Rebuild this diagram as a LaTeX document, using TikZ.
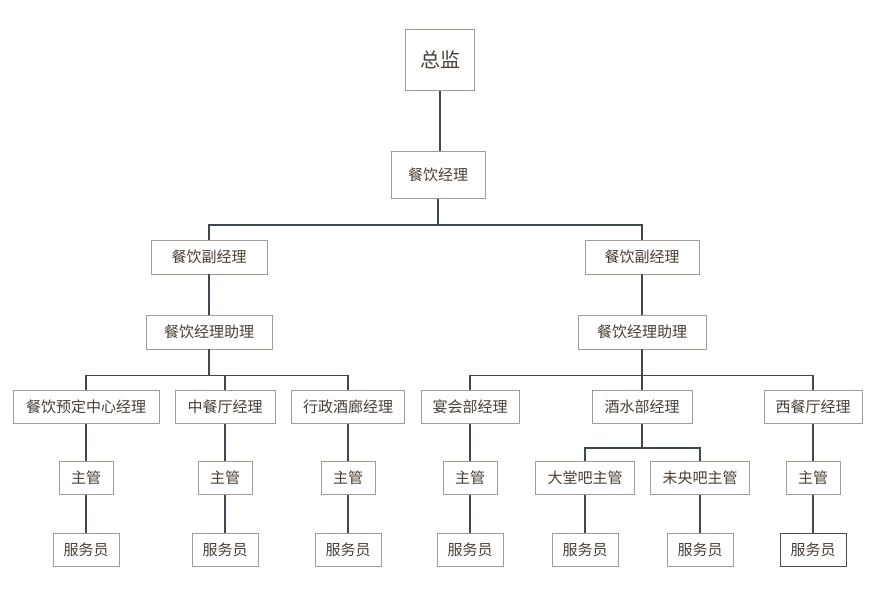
\documentclass[tikz,border=0pt]{standalone}
\usepackage{fontspec}
\newfontfamily\cjk{Noto Sans CJK SC}
\begin{document}
\begin{tikzpicture}[x=1pt,y=-1pt,
 box/.style={draw=boxc,line width=0.8pt,fill=white,text=txtc,font=\cjk\fontsize{15}{18}\selectfont,inner sep=0pt,minimum height=33pt},
 ln/.style={draw=linec,line width=1.6pt}]
\definecolor{boxc}{HTML}{A89C90}
\definecolor{txtc}{HTML}{4A3F35}
\definecolor{linec}{HTML}{3E4852}
\useasboundingbox (0,0) rectangle (880,593);
% nodes
\node[box,minimum width=69pt,minimum height=61pt,font=\cjk\fontsize{20}{24}\selectfont] (zj) at (440,60) {总监};
\node[box,minimum width=94pt,minimum height=47pt] (cy) at (438,175) {餐饮经理};
\node[box,minimum width=116pt,minimum height=34pt] (fl) at (209,257) {餐饮副经理};
\node[box,minimum width=114pt,minimum height=34pt] (fr) at (642,257) {餐饮副经理};
\node[box,minimum width=126pt,minimum height=34pt] (zl) at (209,332) {餐饮经理助理};
\node[box,minimum width=128pt,minimum height=34pt] (zr) at (642,332) {餐饮经理助理};
\foreach \n/\x/\w/\t in {a/86/146/餐饮预定中心经理,b/225/100/中餐厅经理,c/348/113/行政酒廊经理,d/470/98/宴会部经理,e/642/100/酒水部经理,f/813/98/西餐厅经理}
 \node[box,minimum width=\w pt] (m\n) at (\x,407) {\t};
\foreach \n/\x/\w/\t in {a/86/54/主管,b/225/54/主管,c/348/54/主管,d/470/54/主管,e/585/99/大堂吧主管,g/700/99/未央吧主管,f/813/54/主管}
 \node[box,minimum width=\w pt] (s\n) at (\x,478) {\t};
\foreach \n/\x in {a/86,b/225,c/348,d/470,e/585,g/700}
 \node[box,minimum width=66pt] (w\n) at (\x,550) {服务员};
\node[box,draw=black!70,minimum width=66pt] (wf) at (813,550) {服务员};
% connectors
\begin{scope}[on background layer/.style={}]
\draw[ln] (zj.south) -- (zj.south|-cy.north);
\draw[ln] (cy.south) -- ++(0,26) coordinate (h1);
\draw[ln] (fl.north) |- (h1) -| (fr.north);
\draw[ln] (fl.south) -- (zl.north);
\draw[ln] (fr.south) -- (zr.north);
\draw[ln] (zl.south) -- ++(0,26) coordinate (h2);
\draw[ln] (ma.north) |- (h2) -| (mc.north);
\draw[ln] (h2) -| (mb.north);
\draw[ln] (zr.south) -- ++(0,26) coordinate (h3);
\draw[ln] (md.north) |- (h3) -| (mf.north);
\draw[ln] (h3) -- (me.north);
\draw[ln] (me.south) -- ++(0,24) coordinate (h4);
\draw[ln] (se.north) |- (h4) -| (sg.north);
\foreach \n in {a,b,c,d,f} \draw[ln] (m\n.south) -- (s\n.north);
\foreach \n in {a,b,c,d,e,g,f} \draw[ln] (s\n.south) -- (w\n.north);
\end{scope}
\end{tikzpicture}
\end{document}
